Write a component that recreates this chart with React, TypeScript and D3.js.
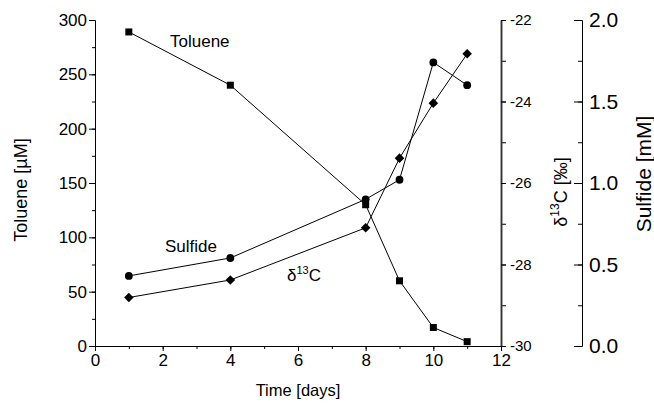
import { useEffect, useRef } from "react";
import * as d3 from "d3";

const days = [1, 4, 8, 9, 10, 11];
const toluene = [289, 240, 130, 60, 17, 4];
const sulfide = [0.43, 0.54, 0.9, 1.02, 1.74, 1.6];
const delta13C = [-28.81, -28.38, -27.1, -25.39, -24.04, -22.83];

const xTicks = [0, 2, 4, 6, 8, 10, 12];
const tolueneTicks = [0, 50, 100, 150, 200, 250, 300];
const deltaTicks = [-30, -28, -26, -24, -22];
const sulfideTicks = [0, 0.5, 1, 1.5, 2];

const font = "'Liberation Sans', Arial, sans-serif";

export default function App() {
  const ref = useRef<SVGSVGElement>(null);

  useEffect(() => {
    const svg = d3.select(ref.current);
    svg.selectAll("*").remove();

    const left = 95;
    const right = 501;
    const top = 20;
    const bottom = 346;
    const sulfideX = 582;

    const x = d3.scaleLinear().domain([0, 12]).range([left, right]);
    const yTol = d3.scaleLinear().domain([0, 300]).range([bottom, top]);
    const yDelta = d3.scaleLinear().domain([-30, -22]).range([bottom, top]);
    const ySulf = d3.scaleLinear().domain([0, 2]).range([bottom, top]);

    const styleAxis = (g: any, size: number) => {
      g.selectAll("path.domain").attr("stroke", "#000");
      g.selectAll("line").attr("stroke", "#000");
      g.selectAll("text").attr("fill", "#000").attr("font-family", font).attr("font-size", size);
    };

    // minor ticks
    const minor = (sel: any) => sel.selectAll("line").attr("stroke", "#000");

    svg.append("g").attr("transform", `translate(0,${bottom})`)
      .call(d3.axisBottom(x).tickValues(d3.range(0, 13, 1)).tickSize(3).tickFormat(() => "").tickSizeOuter(0))
      .call(minor).select("path.domain").attr("stroke", "#000");
    svg.append("g").attr("transform", `translate(0,${bottom})`)
      .call(d3.axisBottom(x).tickValues(xTicks).tickSize(5).tickPadding(3).tickSizeOuter(0).tickFormat((d) => String(d)))
      .call((g: any) => styleAxis(g, 17));

    svg.append("g").attr("transform", `translate(${left},0)`)
      .call(d3.axisLeft(yTol).tickValues(d3.range(0, 301, 25)).tickSize(3).tickFormat(() => "").tickSizeOuter(0))
      .call(minor).select("path.domain").attr("stroke", "#000");
    svg.append("g").attr("transform", `translate(${left},0)`)
      .call(d3.axisLeft(yTol).tickValues(tolueneTicks).tickSize(6).tickPadding(2).tickSizeOuter(0).tickFormat((d) => String(d)))
      .call((g: any) => styleAxis(g, 17));

    svg.append("g").attr("transform", `translate(${right},0)`)
      .call(d3.axisRight(yDelta).tickValues(d3.range(-30, -21, 1)).tickSize(5).tickFormat(() => "").tickSizeOuter(0))
      .call(minor).select("path.domain").attr("stroke", "#333").attr("stroke-width", 1.5);
    svg.append("g").attr("transform", `translate(${right},0)`)
      .call(d3.axisRight(yDelta).tickValues(deltaTicks).tickSize(5).tickPadding(4).tickSizeOuter(0).tickFormat((d) => String(d)))
      .call((g: any) => styleAxis(g, 15))
      .call((g: any) => g.select("path.domain").attr("stroke", "#333").attr("stroke-width", 1.5));

    svg.append("g").attr("transform", `translate(${sulfideX},0)`)
      .call(d3.axisLeft(ySulf).tickValues(d3.range(0, 2.01, 0.25)).tickSize(4).tickFormat(() => "").tickSizeOuter(0))
      .call(minor).select("path.domain").attr("stroke", "#000");
    const sg = svg.append("g").attr("transform", `translate(${sulfideX},0)`)
      .call(d3.axisLeft(ySulf).tickValues(sulfideTicks).tickSize(8).tickSizeOuter(0).tickFormat(d3.format(".1f")));
    styleAxis(sg, 21);
    sg.selectAll("text").attr("x", 7).attr("text-anchor", "start");

    // series
    const tolPts = days.map((d, i) => [x(d), yTol(toluene[i])] as [number, number]);
    const sulPts = days.map((d, i) => [x(d), ySulf(sulfide[i])] as [number, number]);
    const delPts = days.map((d, i) => [x(d), yDelta(delta13C[i])] as [number, number]);
    const lineGen = d3.line();

    [tolPts, sulPts, delPts].forEach((pts) => {
      svg.append("path").attr("d", lineGen(pts)).attr("fill", "none").attr("stroke", "#000").attr("stroke-width", 1);
    });

    const sq = d3.symbol().type(d3.symbolSquare).size(49);
    const ci = d3.symbol().type(d3.symbolCircle).size(48);
    const di = d3.symbol().type(d3.symbolDiamond2).size(58);

    svg.append("g").selectAll("path").data(sulPts).join("path")
      .attr("d", ci()).attr("transform", (p) => `translate(${p[0]},${p[1]})`).attr("fill", "#000");
    svg.append("g").selectAll("path").data(delPts).join("path")
      .attr("d", di()).attr("transform", (p) => `translate(${p[0]},${p[1]})`).attr("fill", "#000");
    svg.append("g").selectAll("path").data(tolPts).join("path")
      .attr("d", sq()).attr("transform", (p) => `translate(${p[0]},${p[1]})`).attr("fill", "#000");

    // annotations
    svg.append("text").attr("x", 170).attr("y", 47).attr("font-family", font).attr("font-size", 17).text("Toluene");
    svg.append("text").attr("x", 165).attr("y", 252).attr("font-family", font).attr("font-size", 17).text("Sulfide");
    const dl = svg.append("text").attr("x", 287).attr("y", 281).attr("font-family", font).attr("font-size", 17);
    dl.append("tspan").text("δ");
    dl.append("tspan").attr("font-size", 11).attr("dy", -7).text("13");
    dl.append("tspan").attr("dy", 7).text("C");

    // axis titles
    svg.append("text").attr("x", (left + right) / 2).attr("y", 396).attr("text-anchor", "middle")
      .attr("font-family", font).attr("font-size", 16.5).text("Time [days]");
    svg.append("text").attr("transform", `translate(27,190) rotate(-90)`).attr("text-anchor", "middle")
      .attr("font-family", font).attr("font-size", 18).text("Toluene [µM]");
    const dt = svg.append("text").attr("transform", `translate(567,192) rotate(-90)`).attr("text-anchor", "middle")
      .attr("font-family", font).attr("font-size", 18);
    dt.append("tspan").text("δ");
    dt.append("tspan").attr("font-size", 12).attr("dy", -8).text("13");
    dt.append("tspan").attr("dy", 8).text("C [‰]");
    svg.append("text").attr("transform", `translate(651,174) rotate(-90)`).attr("text-anchor", "middle")
      .attr("font-family", font).attr("font-size", 21).text("Sulfide [mM]");
  }, []);

  return (
    <svg
      ref={ref}
      width={654}
      height={403}
      style={{ position: "absolute", left: 0, top: 0, background: "#fff" }}
    />
  );
}
